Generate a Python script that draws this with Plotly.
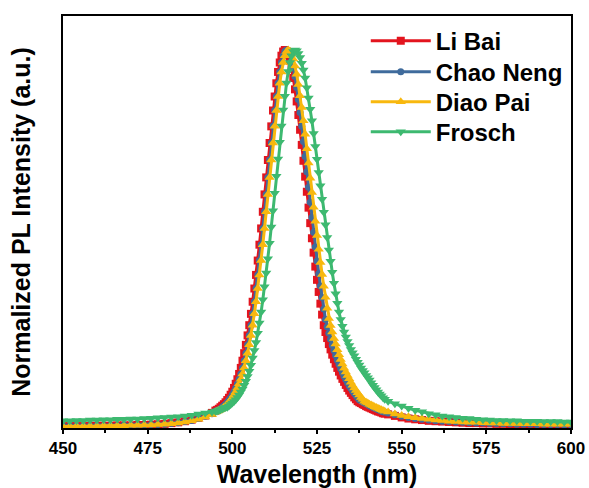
import plotly.graph_objects as go

# wavelength sampling grid (nm)
wl_tail_left = list(range(450, 495, 2))
wl_core = [495 + 0.5 * i for i in range(101)]
wl_tail_right = list(range(546, 601, 2))
wavelength = wl_tail_left + wl_core + wl_tail_right

# ---- normalized PL intensity ----
li_bai_tail_l = [0.005, 0.005, 0.005, 0.005, 0.006, 0.006, 0.006, 0.006, 0.007, 0.007, 0.007, 0.008,
                 0.008, 0.009, 0.010, 0.011, 0.013, 0.015, 0.018, 0.022, 0.027, 0.033, 0.040]
li_bai_core = [0.046, 0.048, 0.051, 0.055, 0.059, 0.063, 0.068, 0.074, 0.080, 0.088, 0.096, 0.106,
               0.117, 0.129, 0.143, 0.159, 0.178, 0.198, 0.220, 0.245, 0.272, 0.302, 0.334, 0.369,
               0.405, 0.443, 0.485, 0.528, 0.572, 0.618, 0.663, 0.709, 0.754, 0.798, 0.840, 0.877,
               0.912, 0.942, 0.967, 0.985, 0.996, 1.000,
               0.996, 0.987, 0.972, 0.952, 0.926, 0.896, 0.864, 0.828, 0.789, 0.749, 0.707, 0.665,
               0.625, 0.583, 0.542, 0.502, 0.464, 0.427, 0.392, 0.360, 0.329, 0.300, 0.272, 0.254,
               0.238, 0.222, 0.208, 0.194, 0.182, 0.170, 0.159, 0.149, 0.139, 0.130, 0.122, 0.114,
               0.106, 0.099, 0.093, 0.087, 0.081, 0.076, 0.071, 0.068, 0.066, 0.063, 0.061, 0.058,
               0.056, 0.054, 0.052, 0.050, 0.048, 0.046, 0.044, 0.043, 0.041, 0.039, 0.038]
li_bai_tail_r = [0.036, 0.032, 0.028, 0.025, 0.023, 0.021, 0.019, 0.018, 0.017, 0.016, 0.015, 0.014,
                 0.013, 0.013, 0.012, 0.012, 0.011, 0.011, 0.010, 0.010, 0.010, 0.009, 0.009, 0.009,
                 0.009, 0.008, 0.008, 0.008]

chao_neng_tail_l = [0.005, 0.005, 0.005, 0.005, 0.005, 0.006, 0.006, 0.006, 0.006, 0.007, 0.007, 0.007,
                    0.008, 0.009, 0.009, 0.010, 0.012, 0.014, 0.017, 0.020, 0.025, 0.031, 0.038]
chao_neng_core = [0.044, 0.046, 0.048, 0.051, 0.055, 0.059, 0.063, 0.068, 0.074, 0.080, 0.088, 0.096,
                  0.106, 0.117, 0.129, 0.143, 0.159, 0.178, 0.198, 0.220, 0.245, 0.272, 0.302, 0.334,
                  0.369, 0.405, 0.443, 0.485, 0.528, 0.572, 0.618, 0.663, 0.709, 0.754, 0.798, 0.840,
                  0.877, 0.912, 0.942, 0.967, 0.985, 0.996, 1.000,
                  0.997, 0.988, 0.973, 0.954, 0.930, 0.901, 0.869, 0.835, 0.798, 0.758, 0.718, 0.678,
                  0.637, 0.597, 0.557, 0.518, 0.479, 0.442, 0.408, 0.376, 0.345, 0.315, 0.287, 0.268,
                  0.251, 0.235, 0.219, 0.205, 0.192, 0.179, 0.168, 0.157, 0.147, 0.137, 0.128, 0.120,
                  0.112, 0.105, 0.098, 0.092, 0.086, 0.080, 0.075, 0.072, 0.069, 0.067, 0.064, 0.062,
                  0.059, 0.057, 0.055, 0.053, 0.051, 0.049, 0.047, 0.045, 0.043, 0.042]
chao_neng_tail_r = [0.040, 0.035, 0.031, 0.028, 0.025, 0.023, 0.021, 0.019, 0.018, 0.017, 0.016, 0.015,
                    0.014, 0.013, 0.013, 0.012, 0.012, 0.011, 0.011, 0.010, 0.010, 0.010, 0.009, 0.009,
                    0.009, 0.009, 0.008, 0.008]

diao_pai_tail_l = [0.004, 0.004, 0.005, 0.005, 0.005, 0.005, 0.006, 0.006, 0.006, 0.006, 0.007, 0.007,
                   0.008, 0.008, 0.009, 0.010, 0.011, 0.013, 0.016, 0.019, 0.023, 0.029, 0.036]
diao_pai_core = [0.042, 0.044, 0.046, 0.048, 0.051, 0.055, 0.059, 0.063, 0.068, 0.074, 0.080, 0.088,
                 0.096, 0.106, 0.117, 0.129, 0.143, 0.159, 0.178, 0.198, 0.220, 0.245, 0.272, 0.302,
                 0.334, 0.369, 0.405, 0.443, 0.485, 0.528, 0.572, 0.618, 0.663, 0.709, 0.754, 0.798,
                 0.840, 0.877, 0.912, 0.942, 0.967, 0.985, 0.996, 1.000,
                 0.997, 0.989, 0.976, 0.958, 0.936, 0.909, 0.879, 0.848, 0.813, 0.777, 0.739, 0.701,
                 0.661, 0.623, 0.584, 0.547, 0.509, 0.473, 0.438, 0.406, 0.375, 0.346, 0.317, 0.290,
                 0.271, 0.254, 0.237, 0.222, 0.207, 0.194, 0.181, 0.169, 0.158, 0.148, 0.139, 0.130,
                 0.121, 0.113, 0.106, 0.099, 0.093, 0.087, 0.081, 0.076, 0.071, 0.068, 0.066, 0.063,
                 0.061, 0.059, 0.056, 0.054, 0.052, 0.050, 0.048, 0.046, 0.044]
diao_pai_tail_r = [0.042, 0.037, 0.033, 0.030, 0.027, 0.025, 0.023, 0.021, 0.020, 0.018, 0.017, 0.016,
                   0.015, 0.015, 0.014, 0.013, 0.013, 0.012, 0.012, 0.012, 0.011, 0.011, 0.011, 0.010,
                   0.010, 0.010, 0.010, 0.010]

frosch_tail_l = [0.019, 0.019, 0.020, 0.020, 0.021, 0.021, 0.022, 0.022, 0.023, 0.023, 0.024, 0.024,
                 0.025, 0.026, 0.027, 0.028, 0.029, 0.030, 0.032, 0.034, 0.037, 0.040, 0.042]
frosch_core = [0.044, 0.045, 0.046, 0.048, 0.050, 0.052, 0.054, 0.055, 0.058, 0.062, 0.066, 0.070,
               0.075, 0.081, 0.087, 0.095, 0.103, 0.113, 0.124, 0.136, 0.150, 0.166, 0.185, 0.205,
               0.226, 0.251, 0.278, 0.307, 0.339, 0.374, 0.410, 0.448, 0.489, 0.532, 0.575, 0.621,
               0.666, 0.712, 0.756, 0.799, 0.841, 0.878, 0.913, 0.943, 0.967, 0.985, 0.996, 1.000,
               0.998, 0.991, 0.980, 0.965, 0.947, 0.926, 0.900, 0.873, 0.843, 0.813, 0.779, 0.745,
               0.711, 0.676, 0.641, 0.605, 0.571, 0.538, 0.504, 0.471, 0.441, 0.412, 0.383, 0.355,
               0.330, 0.307, 0.287, 0.269, 0.254, 0.241, 0.229, 0.218, 0.208, 0.199, 0.191, 0.182,
               0.174, 0.167, 0.159, 0.152, 0.146, 0.139, 0.133, 0.127, 0.120, 0.113, 0.107, 0.101,
               0.095, 0.090, 0.085, 0.080, 0.076]
frosch_tail_r = [0.071, 0.064, 0.058, 0.052, 0.047, 0.043, 0.038, 0.035, 0.032, 0.030, 0.028, 0.026,
                 0.025, 0.023, 0.022, 0.021, 0.020, 0.020, 0.019, 0.019, 0.018, 0.018, 0.018, 0.017,
                 0.017, 0.017, 0.016, 0.016]

li_bai = li_bai_tail_l + li_bai_core + li_bai_tail_r
chao_neng = chao_neng_tail_l + chao_neng_core + chao_neng_tail_r
diao_pai = diao_pai_tail_l + diao_pai_core + diao_pai_tail_r
frosch = frosch_tail_l + frosch_core + frosch_tail_r

names = ["Li Bai", "Chao Neng", "Diao Pai", "Frosch"]
values = [li_bai, chao_neng, diao_pai, frosch]
colors = ["#E3141E", "#3F6B9C", "#F8B80E", "#3DB970"]
symbols = ["square", "circle", "triangle-up", "triangle-down"]
marker_sizes = [8, 7, 9, 9]

x_ticks = [450, 475, 500, 525, 550, 575, 600]

FONT = "Liberation Sans, Arial, sans-serif"
legend_ids = ["legend", "legend2", "legend3", "legend4"]
legend_rows = [0.939, 0.864, 0.791, 0.718]

fig = go.Figure()
for name, vals, col, sym, ms, lid in zip(names, values, colors, symbols, marker_sizes, legend_ids):
    fig.add_trace(go.Scatter(
        x=wavelength, y=vals, name=name, mode="lines+markers",
        line=dict(color=col, width=3),
        marker=dict(symbol=sym, size=ms, color=col, line=dict(width=0)),
        legend=lid,
    ))

legend_common = dict(
    x=0.596, xanchor="left", yanchor="middle",
    bgcolor="rgba(0,0,0,0)", borderwidth=0,
    font=dict(family=FONT, size=24, color="black", weight="bold"),
    itemwidth=60,
)

fig.update_layout(
    width=589, height=488,
    margin=dict(l=63, r=18, t=16, b=60, autoexpand=False),
    paper_bgcolor="white", plot_bgcolor="white",
    font=dict(family=FONT, color="black"),
    showlegend=True,
    legend=dict(y=legend_rows[0], **legend_common),
    legend2=dict(y=legend_rows[1], **legend_common),
    legend3=dict(y=legend_rows[2], **legend_common),
    legend4=dict(y=legend_rows[3], **legend_common),
    xaxis=dict(
        range=[450, 600], tickvals=x_ticks, ticktext=[str(t) for t in x_ticks],
        ticks="outside", ticklen=4, tickwidth=1.5, tickcolor="black",
        minor=dict(ticks="outside", ticklen=3, tickwidth=1.5, tickcolor="black", dtick=12.5, tick0=450),
        showline=True, linewidth=2, linecolor="black", mirror=True,
        showgrid=False, zeroline=False, automargin=False,
        tickfont=dict(family=FONT, size=17, color="black", weight="bold"),
        title=dict(text="Wavelength (nm)", standoff=19,
                   font=dict(family=FONT, size=25, color="black", weight="bold")),
    ),
    yaxis=dict(
        range=[0, 1.09], showticklabels=False, ticks="",
        showline=True, linewidth=2, linecolor="black", mirror=True,
        showgrid=False, zeroline=False, automargin=False,
        title=dict(text="Normalized PL Intensity (a.u.)", standoff=23,
                   font=dict(family=FONT, size=25, color="black", weight="bold")),
    ),
)

fig.write_html("out.html", config={"displayModeBar": False},
               post_script="document.body.style.margin='0px';")
